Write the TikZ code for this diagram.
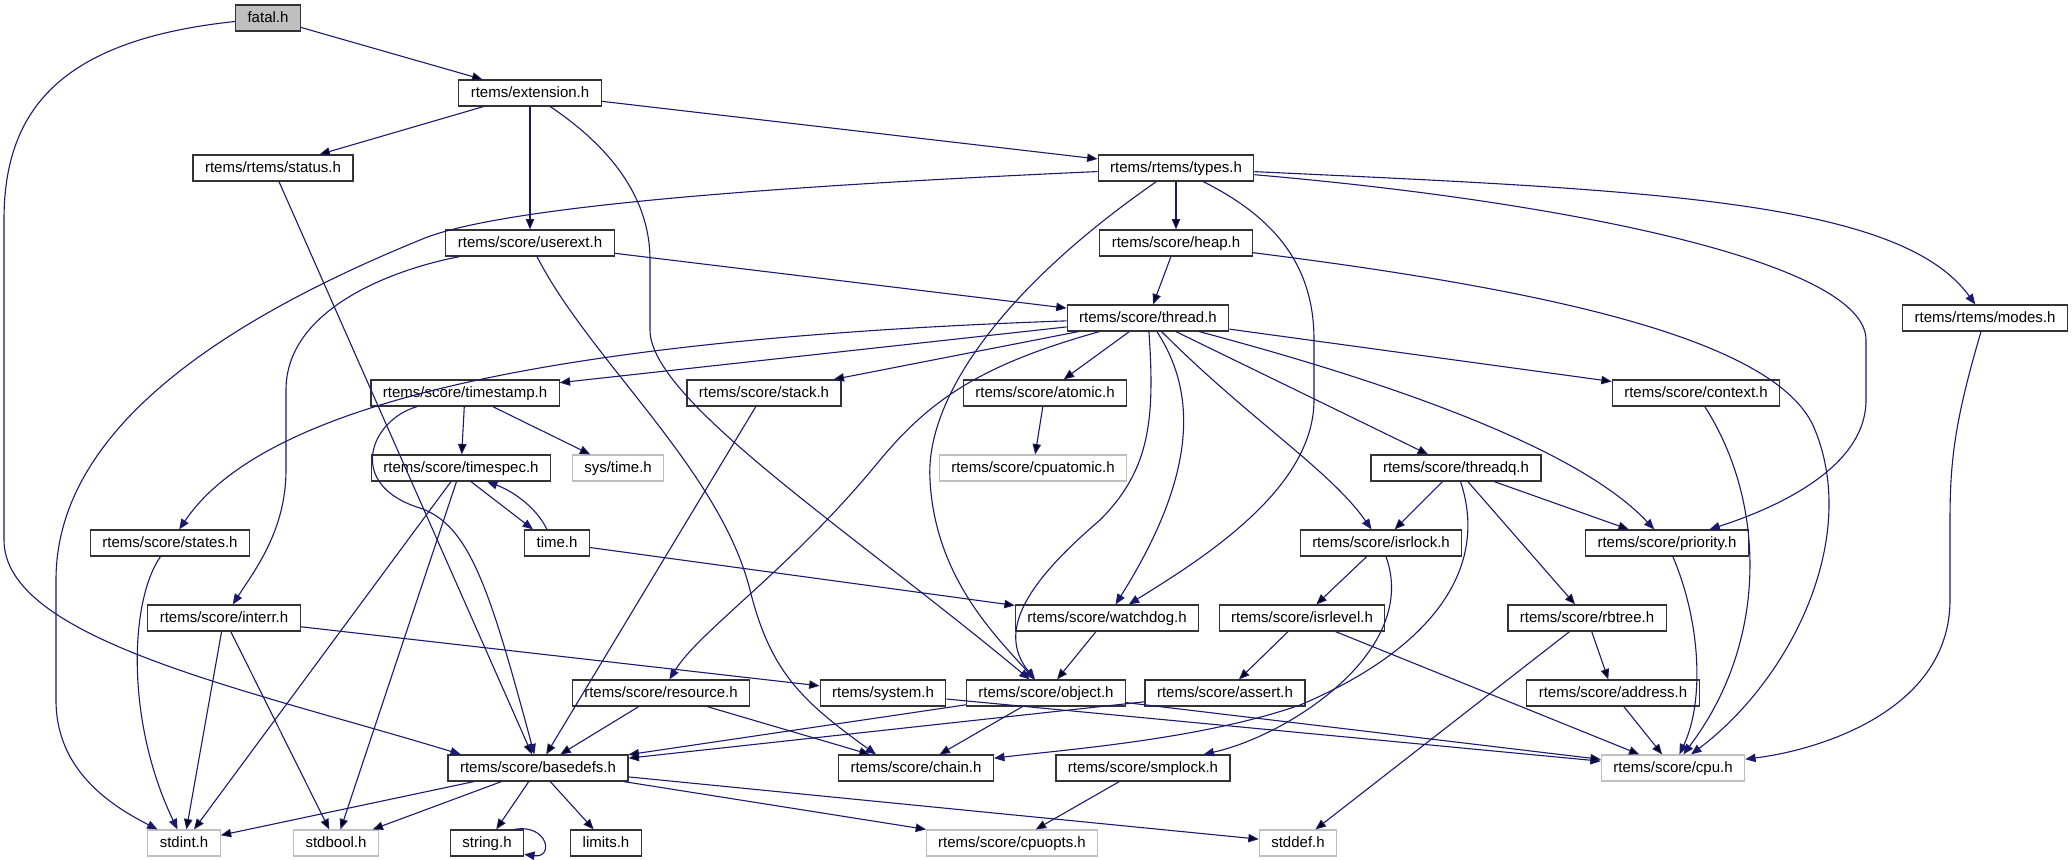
\documentclass[tikz,border=0pt]{standalone}
\usepackage{fontspec}
\setmainfont{Liberation Sans}
\usetikzlibrary{arrows.meta}

\definecolor{edgeblue}{RGB}{25,25,112}
\definecolor{sysgray}{RGB}{191,191,191}

\begin{document}
\begin{tikzpicture}[x=0.5pt, y=-0.5pt,
  file/.style={draw=black!80, line width=0.6pt, fill=white, inner xsep=6pt, inner ysep=0pt,
    minimum height=13pt, text height=5.6pt, text depth=1.6pt, font=\fontsize{7.5}{9}\selectfont},
  sysfile/.style={file, draw=sysgray},
  mainfile/.style={file, fill=sysgray},
  dep/.style={draw=edgeblue, line width=0.55pt, -{Triangle[length=5.2pt,width=4.2pt]}}]
\useasboundingbox (0,0) rectangle (2072,859);

\node [mainfile] (fatal) at (268,18) {fatal.h};
\node [file] (extension) at (530,93) {rtems/extension.h};
\node [file] (status) at (273,168) {rtems/rtems/status.h};
\node [file] (types) at (1176,168) {rtems/rtems/types.h};
\node [file] (userext) at (530,243) {rtems/score/userext.h};
\node [file] (heap) at (1176,243) {rtems/score/heap.h};
\node [file] (thread) at (1148,318) {rtems/score/thread.h};
\node [file] (modes) at (1985,318) {rtems/rtems/modes.h};
\node [file] (timestamp) at (465,393) {rtems/score/timestamp.h};
\node [file] (stack) at (764,393) {rtems/score/stack.h};
\node [file] (atomic) at (1045,393) {rtems/score/atomic.h};
\node [file] (context) at (1696,393) {rtems/score/context.h};
\node [file] (timespec) at (461,468) {rtems/score/timespec.h};
\node [sysfile] (systime) at (618,468) {sys/time.h};
\node [sysfile] (cpuatomic) at (1033,468) {rtems/score/cpuatomic.h};
\node [file] (threadq) at (1456,468) {rtems/score/threadq.h};
\node [file] (states) at (170,543) {rtems/score/states.h};
\node [file] (time) at (557,543) {time.h};
\node [file] (isrlock) at (1381,543) {rtems/score/isrlock.h};
\node [file] (priority) at (1667,543) {rtems/score/priority.h};
\node [file] (interr) at (224,618) {rtems/score/interr.h};
\node [file] (watchdog) at (1107,618) {rtems/score/watchdog.h};
\node [file] (isrlevel) at (1302,618) {rtems/score/isrlevel.h};
\node [file] (rbtree) at (1587,618) {rtems/score/rbtree.h};
\node [file] (resource) at (661,693) {rtems/score/resource.h};
\node [file] (system) at (883,693) {rtems/system.h};
\node [file] (object) at (1046,693) {rtems/score/object.h};
\node [file] (assert) at (1225,693) {rtems/score/assert.h};
\node [file] (address) at (1613,693) {rtems/score/address.h};
\node [file] (basedefs) at (538,768) {rtems/score/basedefs.h};
\node [file] (chain) at (916,768) {rtems/score/chain.h};
\node [file] (smplock) at (1143,768) {rtems/score/smplock.h};
\node [sysfile] (cpu) at (1673,768) {rtems/score/cpu.h};
\node [sysfile] (stdint) at (184,843) {stdint.h};
\node [sysfile] (stdbool) at (336,843) {stdbool.h};
\node [file] (string) at (487,843) {string.h};
\node [file] (limits) at (606,843) {limits.h};
\node [sysfile] (cpuopts) at (1012,843) {rtems/score/cpuopts.h};
\node [sysfile] (stddef) at (1298,843) {stddef.h};

\path [dep]
(fatal) edge (extension)
(extension) edge (status)
(extension) edge (userext)
(extension) edge (types)
(status) edge (basedefs)
(types) edge (heap)
(heap) edge (thread)
(userext) edge (thread)
(thread) edge (timestamp)
(thread) edge (stack)
(thread) edge (atomic)
(thread) edge (context)
(thread) edge (threadq)
(timestamp) edge (timespec)
(timestamp) edge (systime)
(atomic) edge (cpuatomic)
(stack) edge (basedefs)
(timespec) edge (stdint)
(timespec) edge (stdbool)
(time) edge (watchdog)
(threadq) edge (isrlock)
(threadq) edge (priority)
(threadq) edge (rbtree)
(isrlock) edge (isrlevel)
(isrlevel) edge (assert)
(isrlevel) edge (cpu)
(rbtree) edge (address)
(rbtree) edge (stddef)
(address) edge (cpu)
(interr) edge (stdint)
(interr) edge (stdbool)
(interr) edge (system)
(watchdog) edge (object)
(resource) edge (basedefs)
(resource) edge (chain)
(system) edge (cpu)
(object) edge (basedefs)
(object) edge (chain)
(object) edge (cpu)
(assert) edge (basedefs)
(smplock) edge (cpuopts)
(basedefs) edge (stdint)
(basedefs) edge (stdbool)
(basedefs) edge (string)
(basedefs) edge (limits)
(basedefs) edge (cpuopts)
(basedefs) edge (stddef);

% long curved dependencies
\draw [dep] (fatal) .. controls (60,40) and (4,110) .. (4,220) -- (4,540) .. controls (4,640) and (250,690) .. (basedefs.170);
\draw [dep] (extension) .. controls (600,140) and (650,190) .. (650,260) -- (650,330) .. controls (650,400) and (850,530) .. (object);
\draw [dep] (types) .. controls (800,185) and (500,205) .. (420,240) .. controls (200,330) and (56,440) .. (56,580) -- (56,700) .. controls (56,770) and (110,805) .. (stdint);
\draw [dep] (types) .. controls (1000,290) and (925,400) .. (930,480) .. controls (935,580) and (1000,640) .. (object);
\draw [dep] (types) .. controls (1280,220) and (1314,270) .. (1314,340) -- (1314,400) .. controls (1314,490) and (1200,560) .. (watchdog);
\draw [dep] (types) .. controls (1550,200) and (1866,260) .. (1866,340) -- (1866,400) .. controls (1866,470) and (1770,510) .. (priority);
\draw [dep] (types) .. controls (1650,190) and (1900,200) .. (modes);
\draw [dep] (heap) .. controls (1550,290) and (1780,340) .. (1815,430) .. controls (1860,540) and (1790,680) .. (cpu);
\draw [dep] (modes) .. controls (1955,420) and (1950,460) .. (1950,520) -- (1950,600) .. controls (1950,710) and (1820,750) .. (cpu);
\draw [dep] (userext) .. controls (390,270) and (286,310) .. (286,390) -- (286,470) .. controls (286,530) and (255,570) .. (interr);
\draw [dep] (userext) .. controls (590,360) and (720,470) .. (750,590) .. controls (770,670) and (800,700) .. ([xshift=-20pt]chain.north);
\draw [dep] (thread) .. controls (520,340) and (260,410) .. (states);
\draw [dep] (thread) .. controls (980,365) and (930,400) .. (880,460) .. controls (790,570) and (700,630) .. (resource);
\draw [dep] (thread) .. controls (1155,420) and (1150,470) .. (1100,520) .. controls (1030,580) and (995,630) .. (object);
\draw [dep] (thread) .. controls (1195,390) and (1200,470) .. (watchdog);
\draw [dep] (thread) .. controls (1250,420) and (1330,470) .. (isrlock);
\draw [dep] (thread) .. controls (1400,385) and (1580,450) .. (priority);
\draw [dep] (timestamp) .. controls (370,420) and (345,485) .. (420,508) .. controls (470,525) and (490,590) .. (basedefs);
\draw [dep] ([xshift=5pt]timespec.south) -- ([xshift=-12pt]time.north);
\draw [dep] ([xshift=-5pt]time.north) .. controls (535,505) and (510,490) .. ([xshift=13pt]timespec.south);
\draw [dep] (states) .. controls (130,600) and (125,720) .. (stdint);
\draw [dep] (context) .. controls (1765,500) and (1770,640) .. (cpu);
\draw [dep] (priority) .. controls (1700,620) and (1705,700) .. (cpu);
\draw [dep] (threadq) .. controls (1490,570) and (1430,650) .. (1300,705) .. controls (1200,740) and (1060,750) .. (chain);
\draw [dep] (isrlock) .. controls (1420,650) and (1290,735) .. (smplock);
\draw [dep] ([xshift=-5pt]string.north east) .. controls +(34,-6) and +(30,4) .. (string.-17);
\end{tikzpicture}
\end{document}
